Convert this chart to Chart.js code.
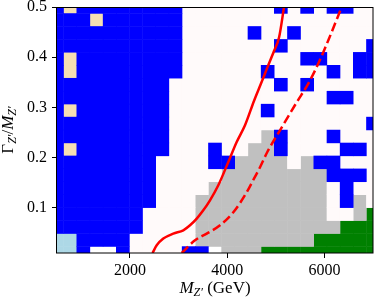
<!DOCTYPE html>
<html>
<head>
<meta charset="utf-8">
<script src="https://cdn.jsdelivr.net/npm/chart.js@4.4.0/dist/chart.umd.min.js"></script>
<style>
  html, body { margin: 0; padding: 0; background: #fff; }
</style>
</head>
<body>
<canvas id="scan" width="374" height="303"></canvas>
<script>
// grid of the scan: mass centres (GeV) and width/mass centres
const massCentres = [500, 770.83, 1041.67, 1312.5, 1583.33, 1854.17, 2125, 2395.83, 2666.67,
  2937.5, 3208.33, 3479.17, 3750, 4020.83, 4291.67, 4562.5, 4833.33, 5104.17, 5375,
  5645.83, 5916.67, 6187.5, 6458.33, 6729.17, 7000];
const widthCentres = [0.01, 0.035789, 0.061579, 0.087368, 0.113158, 0.138947, 0.164737,
  0.190526, 0.216316, 0.242105, 0.267895, 0.293684, 0.319474, 0.345263, 0.371053,
  0.396842, 0.422632, 0.448421, 0.474211, 0.5];

// outcome class of each cell, one string per width row (bottom row first)
// B excluded, S allowed, G grey band, N green, L light blue, T wheat, W no point
const cellClass = [
  'LLBWWBSSSSBBWGGGNNNNNNNNN',
  'LLBBBBSSSSSGGGGGGGGGNNNNN',
  'BBBBBBBSSSSGGGGGGGGGGGNNN',
  'BBBBBBBSSSSGGGGGGGGGGSSGN',
  'BBBBBBBBSSSGGGGGGGGGGSBGS',
  'BBBBBBBBSSSSGGGGGGGGGSBSS',
  'BBBBBBBBSSSSSGGGGGGGGBBBS',
  'BBBBBBBBSSSSBBGGGGSGBBSSS',
  'BTBBBBBBBSSSBSSGGBSSSSBBS',
  'BBBBBBBBBSSSSSSSGBSSSBSSS',
  'BBBBBBBBBSSSSSSSSSSSSSSSB',
  'BTBBBBBBBSSSSSSSBSSSSSSSS',
  'BBBBBBBBBSSSSSSSSSSSSBBSS',
  'BBBBBBBBBSSSSSSSSBSBSSSSS',
  'BTBBBBBBBBSSSSSSBSSSSBSBB',
  'BTBBBBBBBBSSSSSSSSSBBSSBB',
  'BBBBBBBBBBSSSSSSSBSSSSSSB',
  'BBBBBBBBBBSSSSSBSSBSSSSSS',
  'BBBTBBBBBBSSSSSSSSSSSSSSS',
  'BTBBBBBBBBSSSSSSSBSBSBBSS'
];
const classColours = {
  B: '#0000ff', S: '#fffafa', G: '#c0c0c0', N: '#008000', L: '#add8e6', T: '#f5deb3'
};

// contour lines
const solidMass = [2465, 2551, 2687, 2892, 3098, 3236, 3374, 3509, 3647, 3818, 4024, 4196,
  4367, 4552, 4690, 4826, 4964, 5067, 5170];
const solidWidth = [0.01, 0.0253, 0.0387, 0.0486, 0.0552, 0.0652, 0.0785, 0.095, 0.115,
  0.1449, 0.1913, 0.2311, 0.2644, 0.3128, 0.346, 0.3793, 0.4124, 0.4391, 0.5];
const dashedMass = [3065, 3339, 3579, 3853, 4127, 4402, 4552, 4676, 4826, 5087, 5431, 5669,
  5875, 6081, 6356];
const dashedWidth = [0.01, 0.0353, 0.0486, 0.0652, 0.0911, 0.1309, 0.1582, 0.1807, 0.2112,
  0.2544, 0.3102, 0.3474, 0.3873, 0.4337, 0.5];

const xTickValues = [2000, 4000, 6000];
const yTickValues = [0.1, 0.2, 0.3, 0.4, 0.5];

const serif = '"Liberation Serif", "Times New Roman", serif';

// build one floating-bar dataset per class
const rowHalf = (widthCentres[1] - widthCentres[0]) / 2;
const cellSets = Object.keys(classColours).map((code) => {
  const pts = [];
  cellClass.forEach((row, j) => {
    row.split('').forEach((c, i) => {
      if (c === code) {
        pts.push({ x: massCentres[i], y: [widthCentres[j] - rowHalf, widthCentres[j] + rowHalf] });
      }
    });
  });
  return {
    type: 'bar',
    data: pts,
    backgroundColor: classColours[code],
    borderWidth: 0,
    grouped: false,
    barPercentage: 1,
    categoryPercentage: 1,
    inflateAmount: 0.25,
    order: 2,
  };
});

const lineSets = [
  {
    type: 'line',
    data: solidMass.map((m, i) => ({ x: m, y: solidWidth[i] })),
    borderColor: '#ff0000',
    borderWidth: 2.5,
    pointRadius: 0,
    cubicInterpolationMode: 'monotone',
    fill: false,
    order: 0,
  },
  {
    type: 'line',
    data: dashedMass.map((m, i) => ({ x: m, y: dashedWidth[i] })),
    borderColor: '#ff0000',
    borderWidth: 2.5,
    borderDash: [9, 4],
    pointRadius: 0,
    cubicInterpolationMode: 'monotone',
    fill: false,
    order: 1,
  },
];

function drawPieces(ctx, pieces, x, y, angle) {
  ctx.save();
  ctx.translate(x, y);
  ctx.rotate(angle);
  ctx.textAlign = 'left';
  ctx.textBaseline = 'alphabetic';
  let total = 0;
  pieces.forEach((p) => {
    ctx.font = p.font;
    p.w = ctx.measureText(p.text).width;
    total += p.w;
  });
  let cx = -total / 2;
  pieces.forEach((p) => {
    ctx.font = p.font;
    ctx.fillText(p.text, cx, p.shift || 0);
    cx += p.w;
  });
  ctx.restore();
}

const frameAndLabels = {
  id: 'frameAndLabels',
  afterDraw(chart) {
    const { ctx, chartArea: a } = chart;
    ctx.save();
    ctx.strokeStyle = '#000';
    ctx.lineWidth = 1;
    ctx.strokeRect(Math.round(a.left) - 0.5, Math.round(a.top) + 0.5,
      Math.round(a.right - a.left) + 0.5, Math.round(a.bottom - a.top) - 0.5);
    ctx.fillStyle = '#000';
    const big = 17, small = 12;
    drawPieces(ctx, [
      { text: 'M', font: `italic ${big}px ${serif}` },
      { text: 'Z′', font: `italic ${small}px ${serif}`, shift: 3 },
      { text: ' (GeV)', font: `${big}px ${serif}` },
    ], (a.left + a.right) / 2, 293, 0);
    drawPieces(ctx, [
      { text: 'Γ', font: `${big}px ${serif}` },
      { text: 'Z′', font: `italic ${small}px ${serif}`, shift: 3 },
      { text: '/', font: `${big}px ${serif}` },
      { text: 'M', font: `italic ${big}px ${serif}` },
      { text: 'Z′', font: `italic ${small}px ${serif}`, shift: 3 },
    ], 13, (a.top + a.bottom) / 2, -Math.PI / 2);
    ctx.restore();
  },
};

new Chart(document.getElementById('scan'), {
  type: 'bar',
  data: { datasets: [...lineSets, ...cellSets] },
  options: {
    responsive: false,
    animation: false,
    devicePixelRatio: 1,
    layout: { padding: { top: 7, right: 1, left: 0, bottom: 0 } },
    plugins: { legend: { display: false }, tooltip: { enabled: false } },
    scales: {
      x: {
        type: 'linear',
        min: 500,
        max: 7000,
        offset: false,
        grid: { offset: false, drawOnChartArea: false, tickLength: 5, tickColor: '#000' },
        border: { display: false },
        ticks: {
          font: { family: serif, size: 16 },
          color: '#000',
          padding: 3,
          maxRotation: 0,
          callback: (v) => String(v),
        },
        afterBuildTicks: (s) => { s.ticks = xTickValues.map((v) => ({ value: v })); },
        afterFit: (s) => {
          s.height = 50;
          s.paddingLeft = 0; s.paddingRight = 0; s.paddingTop = 0; s.paddingBottom = 0;
        },
      },
      y: {
        type: 'linear',
        min: 0.01,
        max: 0.5,
        grid: { drawOnChartArea: false, tickLength: 5, tickColor: '#000' },
        border: { display: false },
        ticks: {
          font: { family: serif, size: 16 },
          color: '#000',
          padding: 5,
          callback: (v) => v.toFixed(1),
        },
        afterBuildTicks: (s) => { s.ticks = yTickValues.map((v) => ({ value: v })); },
        afterFit: (s) => {
          s.width = 57;
          s.paddingLeft = 0; s.paddingRight = 0; s.paddingTop = 0; s.paddingBottom = 0;
        },
      },
    },
  },
  plugins: [frameAndLabels],
});
</script>
</body>
</html>
